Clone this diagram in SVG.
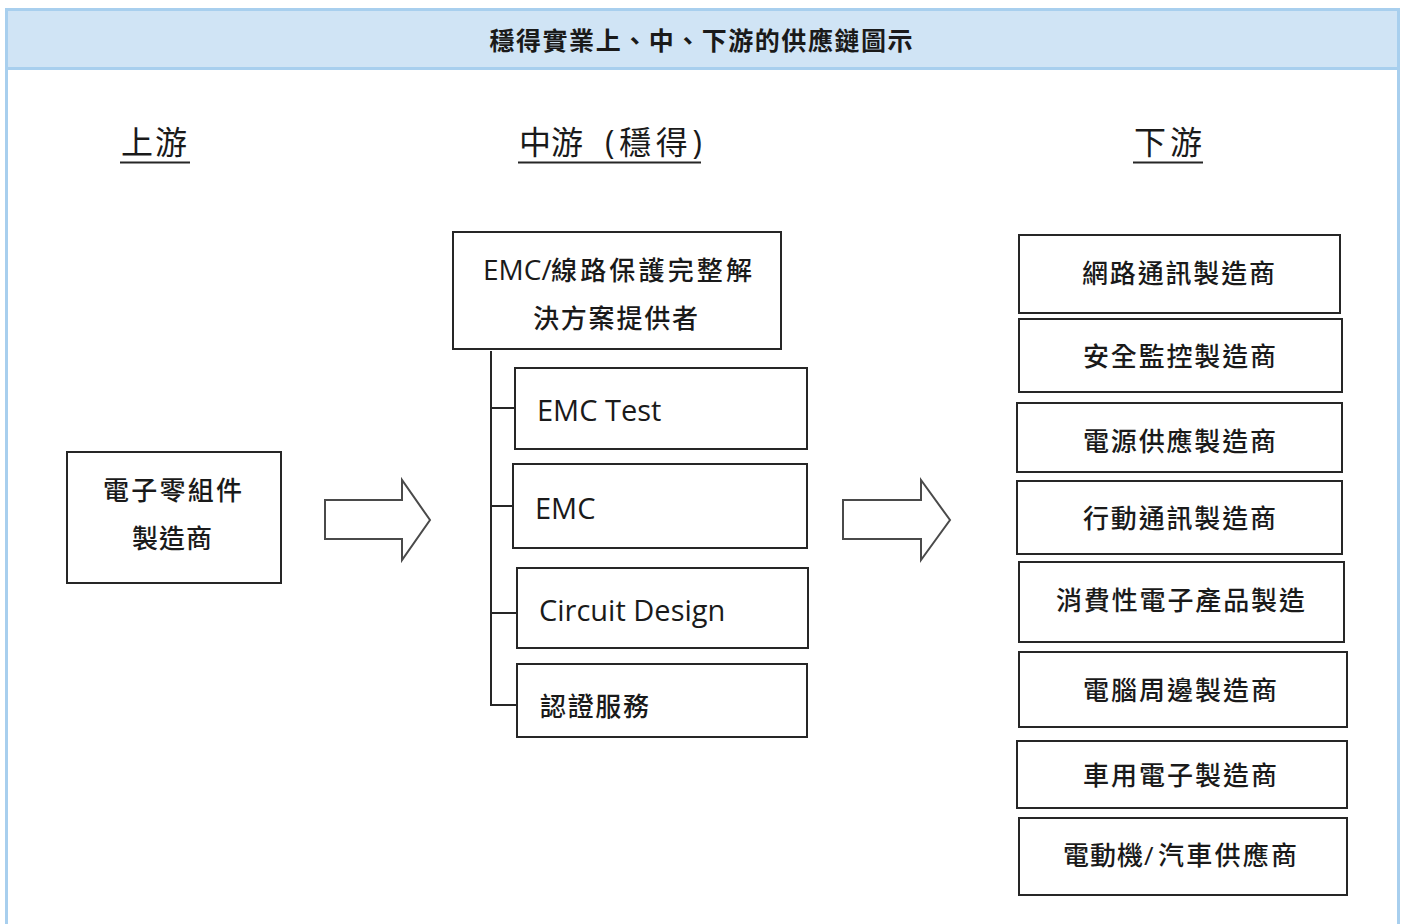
<svg xmlns="http://www.w3.org/2000/svg" width="1402" height="924" viewBox="0 0 1402 924">
<style>
.frame{fill:#ffffff;stroke:#a8cfee;stroke-width:3}
.header{fill:#d0e4f5;stroke:#a8cfee;stroke-width:3}
.box{fill:#ffffff;stroke:#262626;stroke-width:2}
.arrow{fill:#ffffff;stroke:#4a4a4a;stroke-width:2;stroke-linejoin:miter}
.conn{fill:none;stroke:#262626;stroke-width:2}
.ul{stroke:#262626;stroke-width:2}
text{font-family:"Open Sans","Noto Sans CJK TC","Noto Sans",sans-serif;fill:#1a1a1a}
.title{font-size:25px;font-weight:bold}
.col{font-size:32px}
.t{font-size:26px;font-weight:500}
.lat{font-size:29px}
</style>
<rect class="frame" x="6.5" y="9.5" width="1392" height="940"/>
<rect class="header" x="6.5" y="9.5" width="1392" height="59"/>
<text class="title" x="701" y="50" text-anchor="middle" textLength="423" lengthAdjust="spacing">穩得實業上、中、下游的供應鏈圖示</text>

<g id="col-up">
<text class="col" x="121" y="154" textLength="66" lengthAdjust="spacing">上游</text>
<line class="ul" x1="120" y1="162.5" x2="190" y2="162.5"/>
</g>
<g id="col-mid">
<text class="col" y="154"><tspan x="519">中游</tspan><tspan x="605" textLength="97" lengthAdjust="spacing">(穩得)</tspan></text>
<line class="ul" x1="518" y1="162.5" x2="701" y2="162.5"/>
</g>
<g id="col-down">
<text class="col" x="1134" y="154" textLength="68" lengthAdjust="spacing">下游</text>
<line class="ul" x1="1133" y1="162.5" x2="1203" y2="162.5"/>
</g>

<g id="connectors">
<polygon class="arrow" points="325,500 402,500 402,480 430,520 402,560 402,539 325,539"/>
<polygon class="arrow" points="843,500 921,500 921,480 950,520 921,560 921,539 843,539"/>
<path class="conn" d="M491,351 V705 H517 M491,408 H515 M491,506 H513 M491,613 H517"/>
</g>

<g id="upstream">
<rect class="box" x="67" y="452" width="214" height="131"/>
<text class="t" x="103" y="500" textLength="139" lengthAdjust="spacing">電子零組件</text>
<text class="t" x="132" y="548" textLength="80" lengthAdjust="spacing">製造商</text>
</g>

<g id="mid-main">
<rect class="box" x="453" y="232" width="328" height="117"/>
<text class="t" y="280"><tspan x="483" style="font-size:28px;font-weight:400">EMC/</tspan><tspan x="551" textLength="201" lengthAdjust="spacing">線路保護完整解</tspan></text>
<text class="t" x="533" y="328" textLength="165" lengthAdjust="spacing">決方案提供者</text>
</g>
<g id="mid-emctest">
<rect class="box" x="515" y="368" width="292" height="81"/>
<text class="lat" x="537" y="421">EMC Test</text>
</g>
<g id="mid-emc">
<rect class="box" x="513" y="464" width="294" height="84"/>
<text class="lat" x="535" y="519">EMC</text>
</g>
<g id="mid-circuit">
<rect class="box" x="517" y="568" width="291" height="80"/>
<text class="lat" x="539" y="621">Circuit Design</text>
</g>
<g id="mid-cert">
<rect class="box" x="517" y="664" width="290" height="73"/>
<text class="t" x="540" y="716" textLength="109" lengthAdjust="spacing">認證服務</text>
</g>

<g id="down-1">
<rect class="box" x="1019" y="235" width="321" height="78"/>
<text class="t" x="1082" y="283" textLength="193" lengthAdjust="spacing">網路通訊製造商</text>
</g>
<g id="down-2">
<rect class="box" x="1019" y="319" width="323" height="73"/>
<text class="t" x="1083" y="366" textLength="193" lengthAdjust="spacing">安全監控製造商</text>
</g>
<g id="down-3">
<rect class="box" x="1017" y="403" width="325" height="69"/>
<text class="t" x="1083" y="451" textLength="193" lengthAdjust="spacing">電源供應製造商</text>
</g>
<g id="down-4">
<rect class="box" x="1017" y="481" width="325" height="73"/>
<text class="t" x="1083" y="528" textLength="193" lengthAdjust="spacing">行動通訊製造商</text>
</g>
<g id="down-5">
<rect class="box" x="1019" y="562" width="325" height="80"/>
<text class="t" x="1056" y="610" textLength="249" lengthAdjust="spacing">消費性電子產品製造</text>
</g>
<g id="down-6">
<rect class="box" x="1019" y="652" width="328" height="75"/>
<text class="t" x="1083" y="700" textLength="194" lengthAdjust="spacing">電腦周邊製造商</text>
</g>
<g id="down-7">
<rect class="box" x="1017" y="741" width="330" height="67"/>
<text class="t" x="1083" y="785" textLength="194" lengthAdjust="spacing">車用電子製造商</text>
</g>
<g id="down-8">
<rect class="box" x="1019" y="818" width="328" height="77"/>
<text class="t" y="865"><tspan x="1063" textLength="80" lengthAdjust="spacing">電動機</tspan><tspan x="1144">/</tspan><tspan x="1158" textLength="139" lengthAdjust="spacing">汽車供應商</tspan></text>
</g>
</svg>
